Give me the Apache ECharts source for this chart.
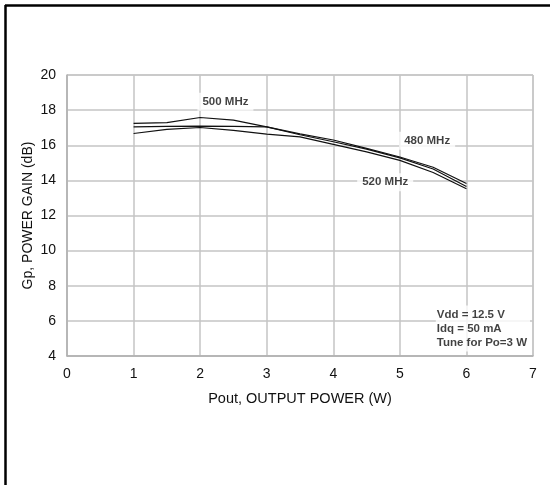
<!DOCTYPE html>
<html>
<head>
<meta charset="utf-8">
<script src="https://cdn.jsdelivr.net/npm/echarts@6/dist/echarts.min.js"></script>
<style>html,body{margin:0;padding:0;background:#fff}#c{width:550px;height:485px}</style>
</head>
<body>
<div id="c"></div>
<script>
var pout = [1, 1.5, 2, 2.5, 3, 3.5, 4, 4.5, 5, 5.5, 6];
var gain500 = [17.24, 17.29, 17.58, 17.43, 17.05, 16.6, 16.2, 15.78, 15.28, 14.65, 13.65];
var gain480 = [17.05, 17.08, 17.09, 17.08, 17.05, 16.65, 16.3, 15.82, 15.33, 14.75, 13.82];
var gain520 = [16.67, 16.9, 17.01, 16.85, 16.63, 16.48, 16.05, 15.62, 15.14, 14.45, 13.52];
var curveLabels = [
  {text: '500 MHz', x: 2.38, y: 18.47},
  {text: '480 MHz', x: 5.41, y: 16.25},
  {text: '520 MHz', x: 4.78, y: 13.89}
];
var noteLines = ['Vdd = 12.5 V', 'Idq = 50 mA', 'Tune for Po=3 W'];
var notePos = [5.54, 5.56];
var xTicks = [0, 1, 2, 3, 4, 5, 6, 7];
var yTicks = [4, 6, 8, 10, 12, 14, 16, 18, 20];

function pair(xs, ys) { return xs.map(function (x, i) { return [x, ys[i]]; }); }
var font = 'Liberation Sans, Arial, sans-serif';
var grid = '#c4c4c4';

var chart = echarts.init(document.getElementById('c'), null, {renderer: 'canvas'});
chart.setOption({
  animation: false,
  backgroundColor: '#fff',
  grid: {left: 67, right: 17, top: 75, bottom: 129, show: true, borderColor: '#b8b8b8', borderWidth: 1},
  xAxis: {
    type: 'value', min: xTicks[0], max: xTicks[xTicks.length - 1], interval: 1,
    name: 'Pout, OUTPUT POWER (W)', nameLocation: 'middle', nameGap: 35, nameMoveOverlap: false,
    nameTextStyle: {fontFamily: font, fontSize: 14.5, color: '#111'},
    axisLine: {show: true, lineStyle: {color: '#b0b0b0', width: 1.5}},
    axisTick: {show: false},
    axisLabel: {fontFamily: font, fontSize: 14, color: '#111', margin: 11},
    splitLine: {show: true, lineStyle: {color: grid, width: 1.5}}
  },
  yAxis: {
    type: 'value', min: yTicks[0], max: yTicks[yTicks.length - 1], interval: 2,
    name: 'Gp, POWER GAIN (dB)', nameLocation: 'middle', nameGap: 32, nameMoveOverlap: false,
    nameTextStyle: {fontFamily: font, fontSize: 14, color: '#111'},
    axisLine: {show: true, lineStyle: {color: '#b0b0b0', width: 1.5}},
    axisTick: {show: false},
    axisLabel: {fontFamily: font, fontSize: 14, color: '#111', margin: 11},
    splitLine: {show: true, lineStyle: {color: grid, width: 1.5}}
  },
  series: [
    {type: 'line', name: '500 MHz', data: pair(pout, gain500), symbol: 'none', lineStyle: {color: '#111', width: 1.2}, z: 3},
    {type: 'line', name: '480 MHz', data: pair(pout, gain480), symbol: 'none', lineStyle: {color: '#111', width: 1.2}, z: 3},
    {type: 'line', name: '520 MHz', data: pair(pout, gain520), symbol: 'none', lineStyle: {color: '#111', width: 1.2}, z: 3},
    {
      type: 'scatter', symbolSize: 0, z: 5, silent: true,
      data: curveLabels.map(function (d) { return {value: [d.x, d.y], name: d.text}; }),
      label: {
        show: true, position: 'inside', formatter: '{b}',
        fontFamily: font, fontSize: 11.5, fontWeight: 'bold', color: '#111',
        backgroundColor: '#fff', padding: [3, 5]
      }
    },
    {
      type: 'scatter', symbolSize: 0, z: 5, silent: true,
      data: [{value: notePos, name: noteLines.join('\n')}],
      label: {
        show: true, position: 'inside', formatter: '{b}', align: 'left', verticalAlign: 'middle',
        fontFamily: font, fontSize: 11.5, fontWeight: 'bold', color: '#111', lineHeight: 14,
        backgroundColor: '#fff', padding: [2, 3, 2, 1]
      }
    }
  ],
  graphic: [
    {type: 'line', shape: {x1: 5, y1: 5.5, x2: 560, y2: 5.5}, style: {stroke: '#000', lineWidth: 2.5}, z: 10},
    {type: 'line', shape: {x1: 5.5, y1: 5, x2: 5.5, y2: 500}, style: {stroke: '#000', lineWidth: 2.5}, z: 10}
  ]
});
</script>
</body>
</html>
